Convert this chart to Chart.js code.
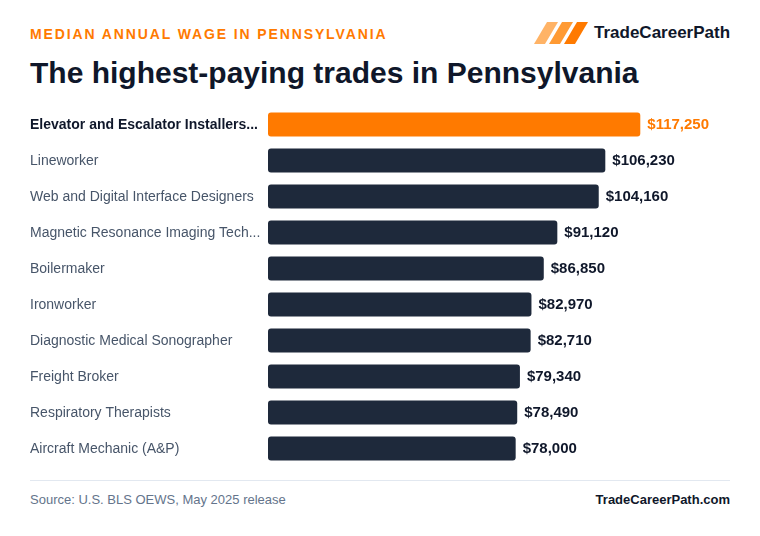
<!DOCTYPE html>
<html lang="en">
<head>
<meta charset="UTF-8">
<title>Highest-paying trades in Pennsylvania</title>
<script src="https://cdn.jsdelivr.net/npm/chart.js@4"></script>
<style>
    body {
        margin: 0;
        width: 760px;
        height: 536px;
        background: #fff;
        font-family: "Liberation Sans", Arial, sans-serif;
        position: relative;
        overflow: hidden;
    }
    .kicker {
        position: absolute; left: 30px; top: 26px;
        font-size: 14px; font-weight: bold; letter-spacing: 1.88px;
        color: #ff7a00;
    }
    .title {
        position: absolute; left: 30px; top: 56px;
        font-size: 30px; font-weight: bold; color: #0f172a;
    }
    .logo {
        position: absolute; left: 534px; top: 22px;
    }
    .brand {
        position: absolute; left: 594px; top: 23px;
        font-size: 17px; font-weight: bold; color: #0f172a;
    }
    .chart-box {
        position: absolute; left: 0; top: 97.5px;
        width: 760px; height: 377px;
    }
    .rule {
        position: absolute; left: 30px; top: 480px;
        width: 700px; height: 1px; background: #e2e8f0;
    }
    .source {
        position: absolute; left: 30px; top: 492px;
        font-size: 13px; color: #64748b;
    }
    .site {
        position: absolute; right: 30px; top: 492px;
        font-size: 13px; font-weight: bold; color: #0f172a;
    }
</style>
</head>
<body>
    <div class="kicker">MEDIAN ANNUAL WAGE IN PENNSYLVANIA</div>
    <svg class="logo" width="56" height="23" viewBox="0 0 56 23">
        <polygon points="0,22 13,0 24,0 11,22" fill="#ffb366"/>
        <polygon points="15,22 28,0 39,0 26,22" fill="#ff9a33"/>
        <polygon points="30,22 43,0 54,0 41,22" fill="#ff7a00"/>
    </svg>
    <div class="brand">TradeCareerPath</div>
    <div class="title">The highest-paying trades in Pennsylvania</div>

    <div class="chart-box"><canvas id="wageChart"></canvas></div>

    <div class="rule"></div>
    <div class="source">Source: U.S. BLS OEWS, May 2025 release</div>
    <div class="site">TradeCareerPath.com</div>

<script>
    // 직업 / 연봉 중간값
    const trades = [
        'Elevator and Escalator Installers...',
        'Lineworker',
        'Web and Digital Interface Designers',
        'Magnetic Resonance Imaging Tech...',
        'Boilermaker',
        'Ironworker',
        'Diagnostic Medical Sonographer',
        'Freight Broker',
        'Respiratory Therapists',
        'Aircraft Mechanic (A&P)',
    ];
    const wages = [117250, 106230, 104160, 91120, 86850, 82970, 82710, 79340, 78490, 78000];
    const valueLabels = ['$117,250', '$106,230', '$104,160', '$91,120', '$86,850',
                         '$82,970', '$82,710', '$79,340', '$78,490', '$78,000'];

    const ORANGE = '#ff7a00';
    const NAVY = '#1e293b';
    const FONT = '"Liberation Sans", Arial, sans-serif';

    // 막대 끝에 값 표시
    const valuePlugin = {
        id: 'valueLabels',
        afterDatasetsDraw(chart) {
            const ctx = chart.ctx;
            const meta = chart.getDatasetMeta(0);
            ctx.save();
            ctx.font = 'bold 15px ' + FONT;
            ctx.textAlign = 'left';
            ctx.textBaseline = 'middle';
            meta.data.forEach((bar, i) => {
                ctx.fillStyle = i === 0 ? ORANGE : '#0f172a';
                ctx.fillText(valueLabels[i], bar.x + 7, bar.y + 0.5);
            });
            ctx.restore();
        }
    };

    new Chart(document.getElementById('wageChart'), {
        type: 'bar',
        data: {
            labels: trades,
            datasets: [{
                data: wages,
                backgroundColor: wages.map((v, i) => i === 0 ? ORANGE : NAVY),
                borderRadius: 3,
                borderSkipped: false,
                barPercentage: 0.667,
                categoryPercentage: 1,
            }],
        },
        options: {
            indexAxis: 'y',
            responsive: true,
            maintainAspectRatio: false,
            animation: false,
            layout: { padding: { top: 0, bottom: 0, left: 30, right: 30 } },
            plugins: {
                legend: { display: false },
                tooltip: { enabled: false },
            },
            scales: {
                x: {
                    display: false,
                    min: 0,
                    max: 145500,
                },
                y: {
                    grid: { display: false },
                    border: { display: false },
                    ticks: {
                        crossAlign: 'far',
                        padding: 0,
                        labelOffset: 1,
                        color: (c) => c.index === 0 ? '#0f172a' : '#475569',
                        font: (c) => ({
                            family: FONT,
                            size: 14,
                            weight: c.index === 0 ? 'bold' : 'normal',
                        }),
                    },
                    afterFit(scale) { scale.width = 238; },
                },
            },
        },
        plugins: [valuePlugin],
    });
</script>
</body>
</html>
